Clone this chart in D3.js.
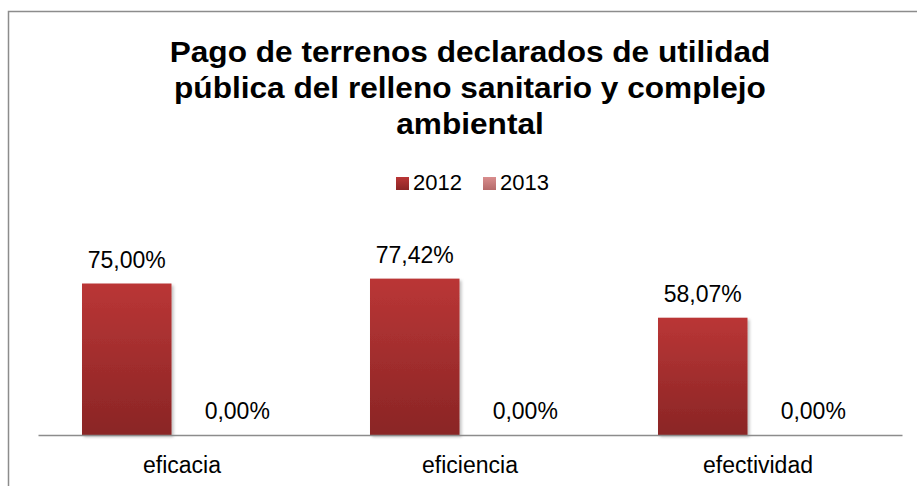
<!DOCTYPE html>
<html>
<head>
<meta charset="utf-8">
<script src="https://cdn.jsdelivr.net/npm/d3@7"></script>
<style>
  html, body { margin: 0; padding: 0; background: #fff; }
  svg { display: block; }
</style>
</head>
<body>
<svg id="chart" width="917" height="486"></svg>
<script>
// ---- data ----
const categories = ["eficacia", "eficiencia", "efectividad"];
const seriesNames = ["2012", "2013"];
const values2012 = [75.00, 77.42, 58.07];
const values2013 = [0.00, 0.00, 0.00];
const titleLines = [
  "Pago de terrenos declarados de utilidad",
  "pública del relleno sanitario y complejo",
  "ambiental"
];

const seriesValues = [values2012, values2013];
const rows = categories.map((c, i) => ({
  category: c,
  values: seriesNames.map((s, j) => ({ series: s, value: seriesValues[j][i] }))
}));

const svg = d3.select("#chart");
const W = 917, H = 486;
const fontFamily = "'Liberation Sans', Arial, sans-serif";

const locale = d3.formatLocale({ decimal: ",", thousands: ".", grouping: [3], currency: ["", "€"] });
const fmt = v => locale.format(".2f")(v) + "%";

// defs: gradients & shadow
const defs = svg.append("defs");
const g1 = defs.append("linearGradient").attr("id", "grad2012").attr("x1", 0).attr("y1", 0).attr("x2", 0).attr("y2", 1);
g1.append("stop").attr("offset", "0%").attr("stop-color", "#ba3636");
g1.append("stop").attr("offset", "100%").attr("stop-color", "#8a2525");
const g2 = defs.append("linearGradient").attr("id", "grad2013").attr("x1", 0).attr("y1", 0).attr("x2", 0).attr("y2", 1);
g2.append("stop").attr("offset", "0%").attr("stop-color", "#d98d8d");
g2.append("stop").attr("offset", "100%").attr("stop-color", "#b56a6a");
const filt = defs.append("filter").attr("id", "shadow").attr("x", "-10%").attr("y", "-10%").attr("width", "130%").attr("height", "130%");
filt.append("feDropShadow").attr("dx", 2).attr("dy", 2).attr("stdDeviation", 1.5).attr("flood-color", "#000").attr("flood-opacity", 0.25);
const fills = { "2012": "url(#grad2012)", "2013": "url(#grad2013)" };

// frame
svg.append("rect")
  .attr("x", 8.5).attr("y", 11.5)
  .attr("width", W + 20).attr("height", H + 20)
  .attr("fill", "none").attr("stroke", "#8c8c8c").attr("stroke-width", 1.5);

// title
const title = svg.append("text")
  .attr("text-anchor", "middle")
  .attr("font-family", fontFamily)
  .attr("font-weight", "bold")
  .attr("font-size", 29)
  .attr("fill", "#000")
  .attr("transform", "translate(470,0) scale(1.09,1)");
titleLines.forEach((t, i) => {
  title.append("tspan").attr("x", 0).attr("y", 62 + i * 36).text(t);
});

// scales
const plotLeft = 38, plotRight = 902, baseY = 435;
const x0 = d3.scaleBand().domain(categories).range([plotLeft, plotRight]).paddingInner(0).paddingOuter(0);
const groupInset = 44;
const x1 = d3.scaleBand().domain(seriesNames)
  .range([groupInset, x0.bandwidth() - groupInset])
  .paddingInner(0.19).paddingOuter(0);
const y = d3.scaleLinear().domain([0, 100]).range([baseY, 233]);

// legend
const legend = svg.append("g");
const legendItems = [{ s: "2012", x: 396 }, { s: "2013", x: 483 }];
legendItems.forEach(d => {
  legend.append("rect").attr("x", d.x).attr("y", 177).attr("width", 13).attr("height", 13)
    .attr("fill", fills[d.s]);
  legend.append("text").attr("x", d.x + 17).attr("y", 190)
    .attr("font-family", fontFamily).attr("font-size", 22).attr("fill", "#000")
    .text(d.s);
});

// bars
const groups = svg.append("g").selectAll("g.cat").data(rows).join("g")
  .attr("class", "cat")
  .attr("transform", d => `translate(${x0(d.category)},0)`);

groups.selectAll("rect").data(d => d.values).join("rect")
  .attr("x", d => x1(d.series))
  .attr("y", d => y(d.value))
  .attr("width", x1.bandwidth())
  .attr("height", d => baseY - y(d.value))
  .attr("fill", d => fills[d.series])
  .attr("filter", "url(#shadow)");

groups.selectAll("text.val").data(d => d.values).join("text")
  .attr("class", "val")
  .attr("x", d => x1(d.series) + x1.bandwidth() / 2)
  .attr("y", d => y(d.value) - 16)
  .attr("text-anchor", "middle")
  .attr("font-family", fontFamily).attr("font-size", 23).attr("fill", "#000")
  .text(d => fmt(d.value));

// axis
const xAxis = d3.axisBottom(x0).tickSize(0).tickPadding(22);
const axG = svg.append("g").attr("transform", `translate(0,${baseY})`).call(xAxis);
axG.select(".domain").attr("stroke", "#8c8c8c").attr("stroke-width", 1.5);
axG.selectAll(".tick text")
  .attr("font-family", fontFamily).attr("font-size", 23).attr("fill", "#000");
</script>
</body>
</html>
